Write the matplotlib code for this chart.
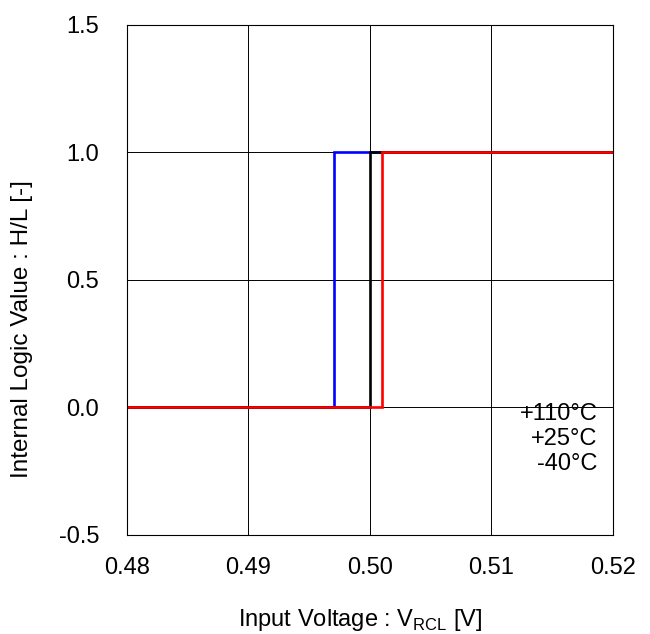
import numpy as np
import matplotlib
matplotlib.use("Agg")
import matplotlib.pyplot as plt

plt.rcParams['font.family'] = ['Liberation Sans', 'DejaVu Sans']

# switching thresholds of the logic output per temperature [V]
temps = ['+110°C', '+25°C', '-40°C']
thresholds = [0.497, 0.500, 0.501]
colors = ['blue', 'black', 'red']
v_min, v_max = 0.48, 0.52
low, high = 0.0, 1.0

xticks = [0.48, 0.49, 0.50, 0.51, 0.52]
yticks = [-0.5, 0.0, 0.5, 1.0, 1.5]

fs = 17

fig = plt.figure(figsize=(6.5, 6.34), dpi=100)
ax = fig.add_axes([0.1954, 0.1562, 0.7476, 0.8044])

for th, c in zip(thresholds, colors):
    x = [v_min, th, th, v_max]
    y = [low, low, high, high]
    ax.plot(x, y, color=c, lw=1.9, solid_joinstyle='miter')

ax.set_xlim(v_min, v_max)
ax.set_ylim(-0.5, 1.5)
ax.set_xticks(xticks)
ax.set_xticklabels([f'{t:.2f}' for t in xticks])
ax.set_yticks(yticks)
ax.set_yticklabels([f'{t:.1f}' for t in yticks])
ax.tick_params(length=0, labelsize=fs)
ax.tick_params(axis='x', pad=16)
ax.tick_params(axis='y', pad=20)
ax.grid(True, color='black', lw=0.7)
ax.set_axisbelow(True)
for s in ax.spines.values():
    s.set_linewidth(0.8)

ax.set_xlabel('Input Voltage : V$_{\\mathregular{RCL}}$ [V]', fontsize=fs, va='center')
ax.xaxis.set_label_coords(0.479, -0.167)
ax.set_ylabel('Internal Logic Value : H/L [-]', fontsize=fs + 0.5, va='center')
ax.yaxis.set_label_coords(-0.216, 0.404)

# temperature labels, stacked under the 0.0 gridline
for name, yb in zip(temps, [-0.049, -0.147, -0.245]):
    ax.text(0.5187, yb, name, ha='right', va='baseline', fontsize=fs)

fig.savefig('out.png', dpi=100)
